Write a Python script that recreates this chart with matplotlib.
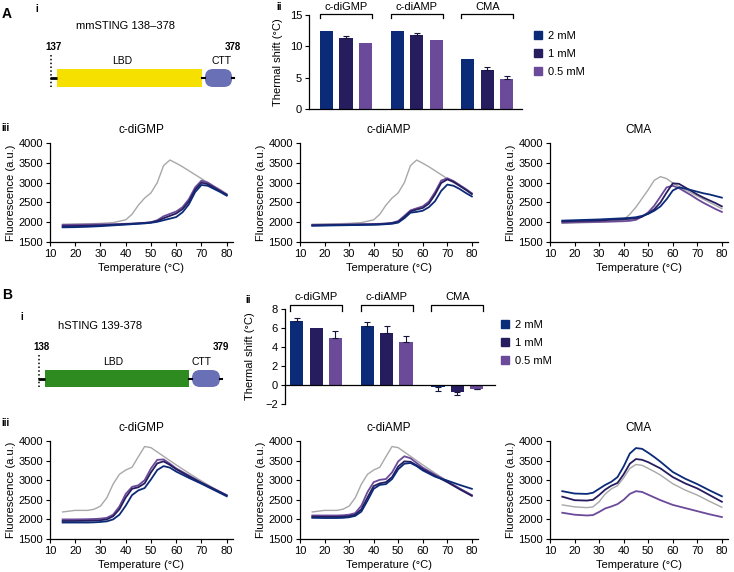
import numpy as np
import matplotlib
matplotlib.use("Agg")
import matplotlib.pyplot as plt
from matplotlib.patches import Rectangle, FancyBboxPatch, Patch
import matplotlib.transforms as mtransforms

plt.rcParams['font.family'] = ['Liberation Sans', 'DejaVu Sans']
plt.rcParams['font.size'] = 8
plt.rcParams['axes.linewidth'] = 0.9

# ---- data ----
ligands = ['c-diGMP', 'c-diAMP', 'CMA']
conc_labels = ['2 mM', '1 mM', '0.5 mM']
conc_colors = ['#0b2a78', '#261d5f', '#6b4a9a']
apo_color = '#a8a8a8'

# thermal shifts (deg C), rows = ligand, cols = 2 / 1 / 0.5 mM
shift_a = [[12.5, 11.3, 10.5], [12.5, 11.8, 11.0], [8.0, 6.3, 4.8]]
err_a = [[0, 0.4, 0], [0, 0.35, 0], [0, 0.4, 0.4]]
shift_b = [[6.7, 6.0, 5.0], [6.2, 5.5, 4.5], [-0.2, -0.7, -0.4]]
err_b = [[0.4, 0, 0.7], [0.4, 0.7, 0.7], [0.4, 0.4, 0.05]]

# melt curves, mmSTING
temp_a = [15, 20, 25, 30, 35, 40, 42.5, 45, 47.5, 50, 52.5, 55, 57.5, 60,
          62.5, 65, 67.5, 70, 72.5, 75, 77.5, 80]
apo_a = [1950, 1955, 1960, 1970, 1990, 2060, 2200, 2430, 2610, 2740, 3000, 3430,
         3570, 3490, 3400, 3300, 3200, 3100, 3000, 2910, 2820, 2720]
apo_a_cma = [1970, 1980, 1990, 2000, 2020, 2060, 2200, 2380, 2600, 2820, 3060, 3150,
             3100, 2990, 2900, 2820, 2740, 2660, 2580, 2500, 2420, 2340]
gmp_a = [
    [1870, 1875, 1885, 1900, 1920, 1940, 1950, 1960, 1970, 1985, 2010, 2050,
     2090, 2130, 2250, 2450, 2760, 2940, 2920, 2840, 2760, 2670],
    [1900, 1905, 1910, 1920, 1935, 1950, 1960, 1970, 1980, 1995, 2030, 2100,
     2160, 2220, 2330, 2520, 2820, 3000, 2960, 2870, 2780, 2690],
    [1930, 1935, 1940, 1945, 1950, 1960, 1965, 1975, 1985, 2000, 2050, 2150,
     2210, 2270, 2380, 2580, 2880, 3050, 3000, 2900, 2800, 2700],
]
amp_a = [
    [1910, 1915, 1920, 1925, 1930, 1935, 1940, 1950, 1960, 1990, 2100, 2240,
     2260, 2290, 2380, 2530, 2790, 2950, 2920, 2840, 2740, 2650],
    [1920, 1925, 1930, 1935, 1940, 1945, 1950, 1960, 1975, 2010, 2130, 2270,
     2320, 2360, 2470, 2700, 2990, 3080, 3020, 2920, 2820, 2710],
    [1930, 1935, 1940, 1945, 1950, 1955, 1960, 1970, 1985, 2030, 2160, 2300,
     2350, 2400, 2520, 2760, 3050, 3110, 3040, 2940, 2840, 2730],
]
cma_a = [
    [2040, 2050, 2060, 2070, 2085, 2100, 2110, 2125, 2160, 2210, 2290, 2400,
     2580, 2800, 2880, 2850, 2810, 2770, 2730, 2700, 2660, 2620],
    [2020, 2030, 2035, 2045, 2060, 2075, 2085, 2100, 2140, 2220, 2330, 2500,
     2750, 2980, 2970, 2880, 2790, 2700, 2620, 2550, 2480, 2400],
    [1990, 2000, 2005, 2010, 2015, 2025, 2035, 2060, 2140, 2250, 2420, 2650,
     2880, 2920, 2860, 2770, 2680, 2580, 2490, 2410, 2330, 2260],
]

# melt curves, hSTING
temp_b = [15, 20, 25, 27.5, 30, 32.5, 35, 37.5, 40, 42.5, 45, 47.5, 50, 52.5,
          55, 57.5, 60, 65, 70, 75, 80]
apo_b = [2190, 2230, 2230, 2260, 2340, 2550, 2900, 3150, 3260, 3330, 3600, 3860,
         3830, 3720, 3610, 3500, 3390, 3180, 2980, 2790, 2610]
apo_b_cma = [2370, 2320, 2300, 2320, 2450, 2650, 2780, 2860, 3060, 3300, 3400, 3380,
             3300, 3220, 3130, 3020, 2910, 2750, 2620, 2460, 2310]
gmp_b = [
    [1920, 1920, 1920, 1925, 1935, 1950, 2000, 2120, 2350, 2620, 2740, 2800,
     3020, 3260, 3360, 3320, 3220, 3060, 2910, 2750, 2590],
    [1960, 1960, 1965, 1970, 1980, 2000, 2080, 2260, 2560, 2780, 2820, 2920,
     3200, 3430, 3480, 3390, 3280, 3100, 2930, 2770, 2610],
    [2000, 2000, 2005, 2010, 2020, 2040, 2120, 2330, 2650, 2830, 2870, 3000,
     3300, 3520, 3530, 3420, 3300, 3120, 2940, 2780, 2620],
]
amp_b = [
    [2040, 2035, 2035, 2040, 2055, 2090, 2200, 2480, 2780, 2880, 2900, 3030,
     3280, 3420, 3440, 3360, 3250, 3090, 2990, 2880, 2780],
    [2070, 2065, 2065, 2070, 2085, 2120, 2260, 2560, 2850, 2920, 2950, 3080,
     3350, 3480, 3470, 3380, 3280, 3110, 2950, 2770, 2600],
    [2100, 2100, 2100, 2105, 2120, 2160, 2350, 2700, 2950, 3010, 3030, 3200,
     3480, 3610, 3560, 3440, 3320, 3140, 2970, 2790, 2620],
]
cma_b = [
    [2720, 2660, 2650, 2680, 2780, 2880, 2960, 3080, 3350, 3680, 3820, 3800,
     3700, 3590, 3470, 3340, 3210, 3040, 2900, 2740, 2590],
    [2580, 2490, 2480, 2500, 2620, 2760, 2860, 2930, 3150, 3420, 3540, 3520,
     3460, 3380, 3300, 3190, 3080, 2920, 2790, 2620, 2450],
    [2170, 2120, 2100, 2110, 2190, 2280, 2330, 2390, 2500, 2650, 2720, 2700,
     2630, 2560, 2490, 2430, 2370, 2290, 2210, 2130, 2060],
]

W, H = 734, 572
fig = plt.figure(figsize=(W / 100, H / 100), dpi=100)


def px_axes(x0, y0, x1, y1):
    return fig.add_axes([x0 / W, 1 - y1 / H, (x1 - x0) / W, (y1 - y0) / H])


# overlay axes in pixel units for labels and domain diagrams
ann = fig.add_axes([0, 0, 1, 1])
ann.set_xlim(0, W)
ann.set_ylim(H, 0)
ann.axis('off')


def domain(x0, x1, y0, y1, ctt_end, color, dot_top, start, end, title, tx, ty, lbd_x, ctt_x):
    ym = (y0 + y1) / 2
    ann.add_patch(Rectangle((x0, y0), x1 - x0, y1 - y0, color=color, lw=0))
    ann.add_patch(FancyBboxPatch((x1 + 3, y0), ctt_end - x1 - 3, y1 - y0,
                                 boxstyle="round,pad=0,rounding_size=8",
                                 fc='#6a70b6', ec='none'))
    ann.plot([x0 - 7, x0], [ym, ym], color='black', lw=2, solid_capstyle='butt')
    ann.plot([x1, x1 + 3], [ym, ym], color='black', lw=1.5)
    ann.plot([ctt_end, ctt_end + 1.5], [ym, ym], color='black', lw=1.5)
    ann.plot([x0 - 6, x0 - 6], [dot_top, y1], color='black', lw=1.1, ls=(0, (1, 1.5)))
    ann.text(tx, ty, title, ha='center', va='center', fontsize=8)
    ann.text(x0 - 4, dot_top - 8, start, ha='center', va='center', fontsize=7, fontweight='bold')
    ann.text(ctt_end + 1, dot_top - 8, end, ha='center', va='center', fontsize=7, fontweight='bold')
    ann.text(lbd_x, y0 - 8, 'LBD', ha='center', va='center', fontsize=7.5)
    ann.text(ctt_x, y0 - 8, 'CTT', ha='center', va='center', fontsize=7.5)


domain(57, 202, 69, 87, 232, '#f5e000', 55, '137', '378', 'mmSTING 138–378', 125, 26, 122, 222)
domain(45, 189, 370, 387, 220, '#2e8b1f', 355, '138', '379', 'hSTING 139-378', 100, 326, 113, 202)

for txt, x, y in [('A', 7, 14), ('B', 7, 295)]:
    ann.text(x, y, txt, ha='center', va='center', fontsize=10, fontweight='bold')
for txt, x, y in [('i', 37, 9), ('ii', 279, 7), ('iii', 6, 128),
                  ('i', 22, 317), ('ii', 248, 300), ('iii', 6, 423)]:
    ann.text(x, y, txt, ha='center', va='center', fontsize=7, fontweight='bold')


def bar_panel(box, shifts, errs, start, step, xmax, ylim, yticks, br_top, br_end, lab_y, lab_x):
    ax = px_axes(*box)
    gpos = start + step * np.arange(len(ligands))
    for i in range(3):
        xs = gpos + (i - 1)
        vals = [s[i] for s in shifts]
        ax.bar(xs, vals, width=0.68, color=conc_colors[i], zorder=2)
        for x, v, e in zip(xs, vals, [e[i] for e in errs]):
            if e > 0:
                lo, hi = (0, e) if v >= 0 else (e, 0)
                ax.errorbar(x, v, yerr=[[lo], [hi]], fmt='none', ecolor='#15153a',
                            elinewidth=0.8, capsize=2.3, capthick=0.8, zorder=3)
    ax.set_xlim(0, xmax)
    ax.set_ylim(*ylim)
    ax.set_yticks(yticks)
    ax.set_xticks([])
    ax.spines['top'].set_visible(False)
    ax.spines['right'].set_visible(False)
    ax.spines['bottom'].set_position(('data', 0))
    ax.tick_params(axis='y', length=3, width=0.8, pad=2, labelsize=8)
    ax.set_ylabel('Thermal shift (°C)', fontsize=8)
    ax.yaxis.set_label_coords(lab_x, 0.5)
    tr = mtransforms.blended_transform_factory(ax.transData, ax.transAxes)
    for g, name in zip(gpos, ligands):
        l, r = g - 1.34, g + 1.34
        ax.plot([l, l, r, r], [br_end, br_top, br_top, br_end], color='black', lw=0.9,
                transform=tr, clip_on=False)
        ax.text(g, lab_y, name, ha='center', va='center', fontsize=8, transform=tr)
    return ax


bar_panel((309, 15, 522, 109), shift_a, err_a, 1.9, 3.62, 10.92, (0, 15), [0, 5, 10, 15],
          1.01, 0.965, 1.085, -0.12)
bar_panel((285, 309, 495, 404), shift_b, err_b, 1.62, 3.66, 10.9, (-2, 8), [-2, 0, 2, 4, 6, 8],
          1.042, 0.98, 1.125, -0.145)

handles = [Patch(color=c) for c in conc_colors]
for x, y in [(534, 31), (501, 320)]:
    fig.legend(handles, conc_labels, loc='upper left', bbox_to_anchor=(x / W, 1 - y / H),
               frameon=False, fontsize=8, handlelength=0.7, handleheight=0.7,
               handletextpad=0.6, labelspacing=0.7, borderpad=0, borderaxespad=0)


def melt_panel(box, temps, apo, curves, title):
    ax = px_axes(*box)
    ax.plot(temps, apo, color=apo_color, lw=1.0, zorder=2)
    for i in (2, 1, 0):
        ax.plot(temps, curves[i], color=conc_colors[i], lw=1.3, zorder=3)
    ax.set_xlim(10, 82.5)
    ax.set_ylim(1500, 4000)
    ax.set_xticks(range(10, 81, 10))
    ax.set_yticks(range(1500, 4001, 500))
    ax.spines['top'].set_visible(False)
    ax.spines['right'].set_visible(False)
    ax.tick_params(length=3, width=0.8, pad=2, labelsize=8)
    ax.set_title(title, fontsize=8.5, pad=7)
    ax.set_xlabel('Temperature (°C)', fontsize=8, labelpad=3)
    ax.set_ylabel('Fluorescence (a.u.)', fontsize=8, labelpad=2)
    return ax


cols = [(50, 233), (300, 478), (550, 728)]
sets_a = [(apo_a, gmp_a), (apo_a, amp_a), (apo_a_cma, cma_a)]
sets_b = [(apo_b, gmp_b), (apo_b, amp_b), (apo_b_cma, cma_b)]
for (x0, x1), name, (apo, cur) in zip(cols, ligands, sets_a):
    melt_panel((x0, 143, x1, 242), temp_a, apo, cur, name)
for (x0, x1), name, (apo, cur) in zip(cols, ligands, sets_b):
    melt_panel((x0, 441, x1, 539), temp_b, apo, cur, name)

fig.savefig('out.png', dpi=100)
